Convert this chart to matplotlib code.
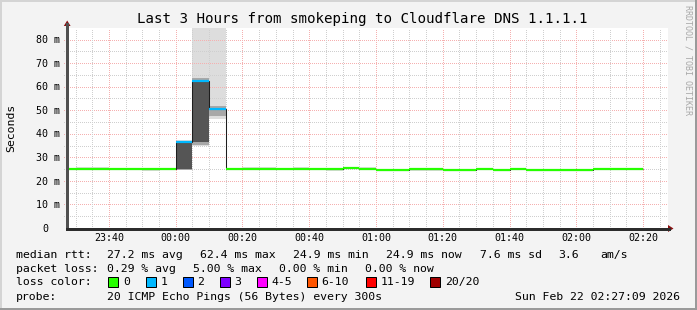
import matplotlib
matplotlib.use("Agg")
import matplotlib.pyplot as plt
import numpy as np
from matplotlib import transforms
from matplotlib.patches import Rectangle, Polygon
from matplotlib.lines import Line2D

# ---- values (5 minute steps) ----
step_times = ["23:25", "23:30", "23:35", "23:40", "23:45", "23:50", "23:55",
              "00:00", "00:05", "00:10", "00:15", "00:20", "00:25", "00:30",
              "00:35", "00:40", "00:45", "00:50", "00:55", "01:00", "01:05",
              "01:10", "01:15", "01:20", "01:25", "01:30", "01:35", "01:40",
              "01:45", "01:50", "01:55", "02:00", "02:05", "02:10", "02:15"]
median_ms = [25.0, 25.0, 25.0, 25.0, 25.0, 25.0, 25.0,
             36.4, 62.4, 50.5, 25.0, 25.0, 25.0, 25.0,
             25.0, 25.0, 25.0, 25.5, 25.0, 24.8, 24.8,
             25.0, 25.0, 24.8, 24.8, 25.1, 24.8, 25.0,
             24.8, 24.8, 24.8, 24.7, 24.9, 24.9, 24.9]
loss_count = [0, 0, 0, 0, 0, 0, 0,
              1, 1, 1, 0, 0, 0, 0,
              0, 0, 0, 0, 0, 0, 0,
              0, 0, 0, 0, 0, 0, 0,
              0, 0, 0, 0, 0, 0, 0]
# outer (light) smoke = min / max ping of each step
smoke_lo = [24.7, 24.7, 24.7, 24.7, 24.7, 24.2, 24.7,
            24.6, 34.7, 46.3, 24.7, 24.7, 24.7, 24.7,
            24.7, 24.7, 24.2, 25.2, 24.7, 24.5, 24.5,
            24.3, 24.3, 24.5, 24.5, 24.8, 24.2, 24.7,
            24.5, 24.5, 24.5, 24.4, 24.6, 24.6, 24.6]
smoke_hi = [25.3, 25.9, 25.9, 25.3, 25.3, 25.3, 25.3,
            37.5, 120.0, 120.0, 25.3, 25.9, 25.9, 25.3,
            25.9, 25.3, 25.3, 25.8, 25.9, 25.1, 25.1,
            25.3, 25.3, 25.1, 25.1, 25.4, 25.1, 25.3,
            25.1, 25.1, 25.1, 24.9, 25.2, 25.2, 25.2]
# inner smoke, only where the pings really spread
spike_times = ["00:00", "00:05", "00:10"]
mid_lo = [24.8, 35.2, 47.4]
mid_hi = [36.9, 63.6, 51.8]
dark_lo = [25.0, 36.4, None]
dark_hi = [36.4, 62.4, None]

y_ticks = [0, 10, 20, 30, 40, 50, 60, 70, 80]
x_tick_times = ["23:40", "00:00", "00:20", "00:40", "01:00", "01:20", "01:40", "02:00", "02:20"]

loss_labels = ["0", "1", "2", "3", "4-5", "6-10", "11-19", "20/20"]
loss_colors = ["#26ff00", "#00b8ff", "#0059ff", "#7e00ff", "#ff00ff", "#ff5500", "#ff0000", "#a00000"]

title = "Last 3 Hours from smokeping to Cloudflare DNS 1.1.1.1"
rtt_items = ["27.2 ms avg", "62.4 ms max", "24.9 ms min", "24.9 ms now", "7.6 ms sd", "3.6", "am/s"]
loss_items = ["0.29 % avg", "5.00 % max", "0.00 % min", "0.00 % now"]
probe_text = "20 ICMP Echo Pings (56 Bytes) every 300s"
stamp_text = "Sun Feb 22 02:27:09 2026"


def to_min(s):
    h, m = map(int, s.split(":"))
    v = h * 60 + m
    return v - 1440 if h >= 12 else v


W, H = 697, 310
MONO = "DejaVu Sans Mono"
plt.rcParams["font.family"] = MONO


def fxy(x, y):
    # image pixel -> figure fraction
    return x / W, 1 - y / H


fig = plt.figure(figsize=(W / 100, H / 100), dpi=100, facecolor="#f3f3f3")

# plot canvas: x 67..668, y 28..228 (pixels)
ax = fig.add_axes([67 / W, (H - 228) / H, 601 / W, 200 / H])
ax.set_facecolor("white")
ax.set_xlim(-32.55, 147.45)
ax.set_ylim(0, 84.9)
for sp in ax.spines.values():
    sp.set_visible(False)
ax.set_xticks([])
ax.set_yticks([])

starts = np.array([to_min(t) for t in step_times])
edges = np.append(starts, starts[-1] + 5)

# smoke
ax.bar(starts, np.array(smoke_hi) - np.array(smoke_lo), bottom=smoke_lo, width=5,
       align="edge", color="#dddddd", linewidth=0, zorder=1)
sp_x = np.array([to_min(t) for t in spike_times])
ax.bar(sp_x, np.array(mid_hi) - np.array(mid_lo), bottom=mid_lo, width=5,
       align="edge", color="#a8a8a8", linewidth=0, zorder=2.5)
dk = [i for i, v in enumerate(dark_lo) if v is not None]
ax.bar(sp_x[dk], [dark_hi[i] - dark_lo[i] for i in dk], bottom=[dark_lo[i] for i in dk],
       width=5, align="edge", color="#555555", linewidth=0, zorder=2.6)

# grid (over the light smoke, under the dark one)
x0, x1 = ax.get_xlim()
y0, y1 = ax.get_ylim()
dots = (0, (1, 2))
minor_y = np.arange(5, 85, 10)
major_y = np.arange(10, 81, 10)
minor_col = "#cfcfcf"
major_col = "#f5b0b0"
ax.hlines(minor_y, x0 - 0.9, x1, colors=minor_col, linestyles=dots, lw=0.72,
          zorder=2, clip_on=False, antialiased=False)
ax.hlines(major_y, x0 - 0.9, x1, colors=major_col, linestyles=dots, lw=0.72,
          zorder=2, clip_on=False, antialiased=False)
vgrid = np.arange(-30, 146, 5)
minor_x = [v for v in vgrid if v % 20 != 0]
major_x = [v for v in vgrid if v % 20 == 0]
ax.vlines(minor_x, -0.9, y1, colors=minor_col, linestyles=dots, lw=0.72,
          zorder=2, clip_on=False, antialiased=False)
ax.vlines(major_x, -0.9, y1, colors=major_col, linestyles=dots, lw=0.72,
          zorder=2, clip_on=False, antialiased=False)

# median: thin dark line, then loss coloured segments
ax.stairs(median_ms, edges, baseline=None, color="#1e1e1e", lw=0.75, zorder=3)
ax.hlines(median_ms, starts, starts + 5, colors=[loss_colors[c] for c in loss_count],
          lw=1.6, zorder=4, capstyle="butt")

# axes with arrows
axis_col = "#2c2c2c"
arrow_col = "#8b1010"
fig.add_artist(Line2D([67 / W, 67 / W], [1 - 228.5 / H, 1 - 24 / H], transform=fig.transFigure,
                      color="#505050", lw=0.8, antialiased=False))
fig.add_artist(Line2D([66.5 / W, 669 / W], [1 - 228.5 / H, 1 - 228.5 / H], transform=fig.transFigure,
                      color=axis_col, lw=0.8, antialiased=False))
fig.add_artist(Polygon([fxy(67.2, 20.5), fxy(63.8, 26), fxy(70.6, 26)], closed=True,
                       transform=fig.transFigure, color=arrow_col, lw=0))
fig.add_artist(Polygon([fxy(673.5, 228.5), fxy(668, 225), fxy(668, 232)], closed=True,
                       transform=fig.transFigure, color=arrow_col, lw=0))

# tick labels
cw_axis = 6.0
for v in y_ticks:
    lab = f"{v} m" if v else "0"
    dx = -7 if v else -7 - 2 * cw_axis
    tr = transforms.offset_copy(ax.get_yaxis_transform(), fig=fig, x=dx, y=-3.7, units="dots")
    ax.text(0, v, lab, transform=tr, ha="right", va="baseline", fontsize=7.2, clip_on=False)
xtr = transforms.offset_copy(ax.get_xaxis_transform(), fig=fig, x=0, y=-13, units="dots")
for t in x_tick_times:
    ax.text(to_min(t), 0, t, transform=xtr, ha="center", va="baseline", fontsize=7.2, clip_on=False)

# title, axis label, watermark
fig.text(*fxy(362, 23.5), title, ha="center", va="baseline", fontsize=10.2)
fig.text(*fxy(11, 127.5), "Seconds", rotation=90, ha="center", va="center", fontsize=8.25)
fig.text(*fxy(688, 5), "RRDTOOL / TOBI OETIKER", rotation=270, ha="center", va="top",
         fontsize=6, color="#a8a8a8")

# legend block
fs = 8.25
rows = [257.7, 271.7, 285.3, 300.0]
fig.text(*fxy(16, rows[0]), "median rtt:", ha="left", va="baseline", fontsize=fs)
for x, s in zip([107.3, 200, 293.3, 386.3, 479.7, 558, 600.3], rtt_items):
    fig.text(*fxy(x, rows[0]), s, ha="left", va="baseline", fontsize=fs)
fig.text(*fxy(16, rows[1]), "packet loss:", ha="left", va="baseline", fontsize=fs)
for x, s in zip([107.3, 192.7, 279.3, 365.3], loss_items):
    fig.text(*fxy(x, rows[1]), s, ha="left", va="baseline", fontsize=fs)
fig.text(*fxy(16, rows[2]), "loss color:", ha="left", va="baseline", fontsize=fs)
for x, lab, c in zip([108.3, 145.7, 182.7, 220, 256.7, 306.7, 366, 430.3], loss_labels, loss_colors):
    fig.add_artist(Rectangle(fxy(x, 286.7), 10 / W, 10 / H, transform=fig.transFigure,
                             facecolor=c, edgecolor="black", lw=0.72))
    fig.text(*fxy(x + 14.7, rows[2]), lab, ha="left", va="baseline", fontsize=fs)
fig.text(*fxy(16, rows[3]), "probe:", ha="left", va="baseline", fontsize=fs)
fig.text(*fxy(107.3, rows[3]), probe_text, ha="left", va="baseline", fontsize=fs)
fig.text(*fxy(680.3, rows[3]), stamp_text, ha="right", va="baseline", fontsize=fs)

# image frame shading
fig.add_artist(Rectangle((0, 1 - 2 / H), 1, 2 / H, transform=fig.transFigure, color="#d4d4d4", lw=0))
fig.add_artist(Rectangle((0, 0), 2 / W, 1, transform=fig.transFigure, color="#d4d4d4", lw=0))
fig.add_artist(Rectangle((0, 0), 1, 2 / H, transform=fig.transFigure, color="#9a9a9a", lw=0))
fig.add_artist(Rectangle((1 - 2 / W, 0), 2 / W, 1, transform=fig.transFigure, color="#9a9a9a", lw=0))

fig.savefig("out.png", dpi=100, facecolor=fig.get_facecolor())
